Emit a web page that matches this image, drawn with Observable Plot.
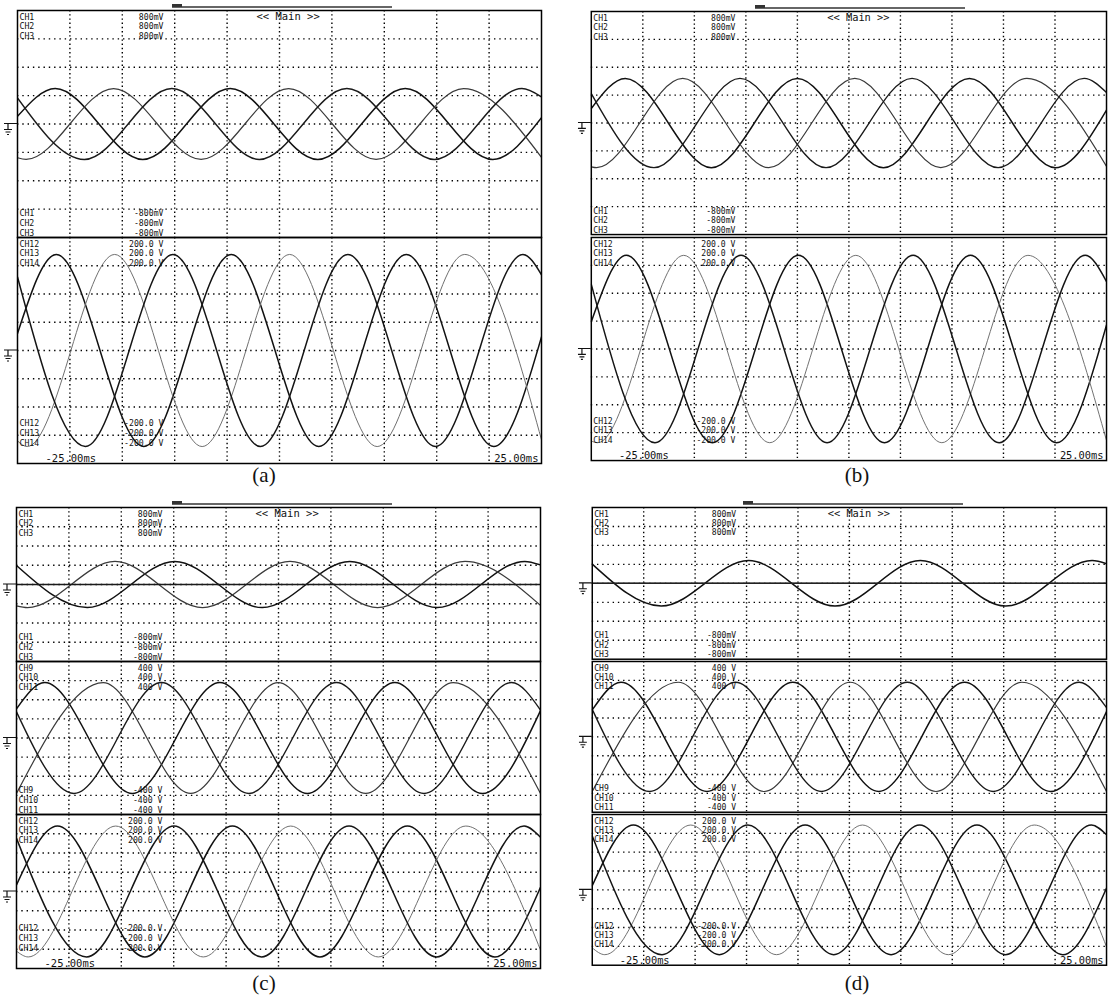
<!DOCTYPE html>
<html><head><meta charset="utf-8">
<script src="https://cdn.jsdelivr.net/npm/d3@7"></script>
<script src="https://cdn.jsdelivr.net/npm/@observablehq/plot@0.6"></script>
<style>
body{margin:0;background:#fff;}
#page{position:relative;width:1109px;height:998px;overflow:hidden;background:#fff;}
.sec{position:absolute;}
.sec svg{overflow:visible;display:block;}
.cap{position:absolute;font-family:"Liberation Serif","Times New Roman",serif;font-size:21px;line-height:21px;color:#111;transform:translateX(-50%);}
.bar{position:absolute;height:1.5px;background:#666;}
.barmark{position:absolute;height:3px;width:10px;background:#333;}
</style></head><body><div id="page"></div>
<script>
// ---------- tick / label text ----------
const TIME_GRID = [-20, -15, -10, -5, 0, 5, 10, 15, 20];          // ms, vertical divisions
const DIV_FRACTIONS = [-0.75, -0.5, -0.25, 0, 0.25, 0.5, 0.75];    // horizontal divisions per section
const TIME_LABELS = ["-25.00ms", "25.00ms"];
const MAIN_LABEL = "<< Main >>";
const CAPTIONS = ["(a)", "(b)", "(c)", "(d)"];
const CH_SIG = ["CH1", "CH2", "CH3"];
const CH_VOLT = ["CH9", "CH10", "CH11"];
const CH_OUT = ["CH12", "CH13", "CH14"];
const SIG_POS = ["800mV", "800mV", "800mV"];
const SIG_NEG = ["-800mV", "-800mV", "-800mV"];
const VOLT_POS = ["400 V", "400 V", "400 V"];
const VOLT_NEG = ["-400 V", "-400 V", "-400 V"];
const OUT_POS = ["200.0 V", "200.0 V", "200.0 V"];
const OUT_NEG = ["-200.0 V", "-200.0 V", "-200.0 V"];

// ---------- waveform key points: [time ms, value] ----------
// (a) CH1-CH3 (mV)
const A_SIG_1 = [[-25,54],[-21.4,250],[-13.05,-250],[-4.7,250],[3.65,-250],[12.0,250],[20.35,-250],[25,44]];
const A_SIG_2 = [[-25,-238],[-24.18,-250],[-15.83,250],[-7.48,-250],[0.87,250],[9.22,-250],[17.57,250],[25,-235]];
const A_SIG_3 = [[-25,184],[-18.62,-250],[-10.27,250],[-1.92,-250],[6.43,250],[14.78,-250],[23.13,250],[25,191]];
// (a) CH12-CH14 (V)
const A_OUT_12 = [[-25,30],[-21.3,170],[-12.95,-170],[-4.6,170],[3.75,-170],[12.1,170],[20.45,-170],[25,24]];
const A_OUT_13 = [[-25,-160],[-24.08,-170],[-15.73,170],[-7.38,-170],[0.97,170],[9.32,-170],[17.67,170],[25,-158]];
const A_OUT_14 = [[-25,130],[-18.52,-170],[-10.17,170],[-1.82,-170],[6.53,170],[14.88,-170],[23.23,170],[25,134]];
// (b) CH1-CH3 (mV)
const B_SIG_1 = [[-25,104],[-21.7,320],[-13.35,-320],[-5.0,320],[3.35,-320],[11.7,320],[20.05,-320],[25,92]];
const B_SIG_2 = [[-25,-314],[-24.48,-320],[-16.13,320],[-7.78,-320],[0.57,320],[8.92,-320],[17.27,320],[25,-311]];
const B_SIG_3 = [[-25,211],[-18.92,-320],[-10.57,320],[-2.22,-320],[6.13,320],[14.48,-320],[22.83,320],[25,219]];
// (b) CH12-CH14 (V)
const B_OUT_12 = [[-25,49],[-21.6,168],[-13.25,-168],[-4.9,168],[3.45,-168],[11.8,168],[20.15,-168],[25,43]];
const B_OUT_13 = [[-25,-165],[-24.38,-168],[-16.03,168],[-7.68,-168],[0.67,168],[9.02,-168],[17.37,168],[25,-164]];
const B_OUT_14 = [[-25,116],[-18.82,-168],[-10.47,168],[-2.12,-168],[6.23,168],[14.58,-168],[22.93,168],[25,121]];
// (c) CH1-CH3 (mV)
const C_SIG_1 = [[-25,198],[-18.25,-240],[-9.9,240],[-1.55,-240],[6.8,240],[15.15,-240],[23.5,240],[25,203]];
const C_SIG_2 = [[-25,-222],[-23.95,-240],[-15.6,240],[-7.25,-240],[1.1,240],[9.45,-240],[17.8,240],[25,-218]];
const C_SIG_3 = [[-25,0],[25,0]];
// (c) CH9-CH11 (V)
const C_VOLT_9 = [[-25,153],[-22.3,290],[-13.95,-290],[-5.6,290],[2.75,-290],[11.1,290],[19.45,-290],[25,143]];
const C_VOLT_10 = [[-25,-290],[-16.73,290],[-8.38,-290],[-0.03,290],[8.32,-290],[16.67,290],[25,-290]];
const C_VOLT_11 = [[-25,137],[-19.52,-290],[-11.17,290],[-2.82,-290],[5.53,290],[13.88,-290],[22.23,290],[25,146]];
// (c) CH12-CH14 (V)
const C_OUT_12 = [[-25,17],[-21.1,170],[-12.75,-170],[-4.4,170],[3.95,-170],[12.3,170],[20.65,-170],[25,11]];
const C_OUT_13 = [[-25,-155],[-23.88,-170],[-15.53,170],[-7.18,-170],[1.17,170],[9.52,-170],[17.87,170],[25,-152]];
const C_OUT_14 = [[-25,138],[-18.32,-170],[-9.97,170],[-1.62,-170],[6.73,170],[15.08,-170],[23.43,170],[25,141]];
// (d) CH1-CH3 (mV)
const D_SIG_1 = [[-25,203],[-18.3,-240],[-9.8,240],[-1.4,-240],[6.9,240],[15.2,-240],[23.6,240],[25,207]];
const D_SIG_2 = [[-25,0],[25,0]];
const D_SIG_3 = [[-25,2],[25,2]];
// (d) CH9-CH11 (V)
const D_VOLT_9 = [[-25,143],[-22.2,290],[-13.85,-290],[-5.5,290],[2.85,-290],[11.2,290],[19.55,-290],[25,134]];
const D_VOLT_10 = [[-25,-290],[-16.63,290],[-8.28,-290],[0.07,290],[8.42,-290],[16.77,290],[25,-290]];
const D_VOLT_11 = [[-25,146],[-19.42,-290],[-11.07,290],[-2.72,-290],[5.63,290],[13.98,-290],[22.33,290],[25,155]];
// (d) CH12-CH14 (V)
const D_OUT_12 = [[-25,11],[-21.0,172],[-12.65,-172],[-4.3,172],[4.05,-172],[12.4,172],[20.75,-172],[25,5]];
const D_OUT_13 = [[-25,-154],[-23.78,-172],[-15.43,172],[-7.08,-172],[1.27,172],[9.62,-172],[17.97,172],[25,-151]];
const D_OUT_14 = [[-25,143],[-18.22,-172],[-9.87,172],[-1.52,-172],[6.83,172],[15.18,-172],[23.53,172],[25,146]];

// ---------- build ----------
const FONT = "'DejaVu Sans Mono', 'Liberation Mono', monospace";
const LBL_SIZE = 8.2, LBL_LINE = 9.6;
const GROUPS = {
  sig:  {range: 800, names: CH_SIG,  pos: SIG_POS,  neg: SIG_NEG,  gray: -1},
  volt: {range: 400, names: CH_VOLT, pos: VOLT_POS, neg: VOLT_NEG, gray: -1},
  out:  {range: 200, names: CH_OUT,  pos: OUT_POS,  neg: OUT_NEG,  gray: 1}
};
const STYLE_SIG = [{s:"#111", w:1.5}, {s:"#3a3a3a", w:1.2}, {s:"#1a1a1a", w:1.4}];
const STYLE_OUT = [{s:"#111", w:1.5}, {s:"#707070", w:1.0}, {s:"#151515", w:1.5}];

const PANELS = [
  {left:17,  width:524, tops:[10,237,463],  bar:[155,375], cap:[264,465], sections:[
    {g:"sig", ch:[A_SIG_1,A_SIG_2,A_SIG_3]}, {g:"out", ch:[A_OUT_12,A_OUT_13,A_OUT_14]}]},
  {left:591, width:522, tops:[11,237,463],  bar:[164,374], cap:[857,465], sections:[
    {g:"sig", ch:[B_SIG_1,B_SIG_2,B_SIG_3]}, {g:"out", ch:[B_OUT_12,B_OUT_13,B_OUT_14]}]},
  {left:16,  width:524, tops:[507,661,814,968], bar:[156,376], cap:[264,973], sections:[
    {g:"sig", ch:[C_SIG_1,C_SIG_2,C_SIG_3]}, {g:"volt", ch:[C_VOLT_9,C_VOLT_10,C_VOLT_11]}, {g:"out", ch:[C_OUT_12,C_OUT_13,C_OUT_14]}]},
  {left:592, width:522, tops:[507,661,814,967], bar:[151,371], cap:[857,973], sections:[
    {g:"sig", ch:[D_SIG_1,D_SIG_2,D_SIG_3]}, {g:"volt", ch:[D_VOLT_9,D_VOLT_10,D_VOLT_11]}, {g:"out", ch:[D_OUT_12,D_OUT_13,D_OUT_14]}]}
];

const page = document.getElementById("page");
const ML = 16, MR = 3;

function txt(s, o) {
  return Plot.text([s], Object.assign({text: d => d, fontSize: 10, fontFamily: FONT, fill: "#111"}, o));
}

PANELS.forEach((p, pi) => {
  p.sections.forEach((sec, si) => {
    const grp = GROUPS[sec.g];
    const R = grp.range;
    const top = p.tops[si], h = p.tops[si + 1] - top;
    const isFirst = si === 0, isLast = si === p.sections.length - 1;
    const marks = [];
    marks.push(Plot.gridX(TIME_GRID, {stroke: "#000", strokeOpacity: 1, strokeWidth: 1.4, strokeDasharray: "1.4,2.8"}));
    marks.push(Plot.gridY(DIV_FRACTIONS.map(f => f * R), {stroke: "#000", strokeOpacity: 1, strokeWidth: 1.4, strokeDasharray: "1.4,3.9"}));
    const styles = sec.g === "out" ? STYLE_OUT : STYLE_SIG;
    sec.ch.forEach((pts, ci) => {
      const rows = pts.map(([t, v]) => ({t, v}));
      marks.push(Plot.line(rows, {x: "t", y: "v", curve: "monotone-x", stroke: styles[ci].s, strokeWidth: styles[ci].w, clip: true}));
    });
    marks.push(Plot.frame({stroke: "#000", strokeWidth: 1.5}));
    // channel name / scale columns, three lines each
    const lh = LBL_LINE / LBL_SIZE;
    const botDy = isLast ? -18 : -2;
    const tag = grp.gray >= 0 ? "lbl-gray" : "lbl";
    const common = {fontSize: LBL_SIZE, lineHeight: lh, ariaLabel: tag};
    marks.push(txt(grp.names.join("\n"), {...common, frameAnchor: "top-left", dx: 2, dy: 2.4, lineAnchor: "top", textAnchor: "start"}));
    marks.push(txt(grp.pos.join("\n"), {...common, frameAnchor: "top-left", dx: 146, dy: 2.4, lineAnchor: "top", textAnchor: "end"}));
    marks.push(txt(grp.names.join("\n"), {...common, frameAnchor: "bottom-left", dx: 2, dy: botDy, lineAnchor: "bottom", textAnchor: "start"}));
    marks.push(txt(grp.neg.join("\n"), {...common, frameAnchor: "bottom-left", dx: 146, dy: botDy, lineAnchor: "bottom", textAnchor: "end"}));
    if (isFirst) marks.push(txt(MAIN_LABEL, {frameAnchor: "top-left", dx: 239, dy: 9.5, lineAnchor: "bottom", textAnchor: "start", fontSize: 10.5}));
    if (isLast) {
      marks.push(txt(TIME_LABELS[0], {frameAnchor: "bottom-left", dx: 28, dy: -1.5, lineAnchor: "bottom", textAnchor: "start", fontSize: 10.5}));
      marks.push(txt(TIME_LABELS[1], {frameAnchor: "bottom-right", dx: -3, dy: -1.5, lineAnchor: "bottom", textAnchor: "end", fontSize: 10.5}));
    }
    const chart = Plot.plot({
      width: p.width + ML + MR, height: h,
      marginLeft: ML, marginRight: MR, marginTop: 0, marginBottom: 0,
      x: {domain: [-25, 25], axis: null},
      y: {domain: [-R, R], axis: null},
      style: {background: "transparent", overflow: "visible"},
      marks
    });
    // label columns: wider tracking like the scope font; lighter CH13 row
    d3.select(chart).selectAll('g[aria-label="lbl"] text, g[aria-label="lbl-gray"] text').attr("letter-spacing", 0.9);
    d3.select(chart).selectAll('g[aria-label="lbl-gray"] text').each(function () {
      d3.select(this).selectAll("tspan").filter((d, i) => i === 1).attr("fill", "#7a7a7a");
    });
    // ground reference marker at the zero level
    const y0 = chart.scale("y").apply(0);
    const cx = ML - 9;
    d3.select(chart).append("path")
      .attr("d", `M${cx-4},${y0}H${ML}M${cx},${y0}V${y0+6}M${cx-4},${y0+6}H${cx+4}M${cx-2.5},${y0+8.5}H${cx+2.5}M${cx-1},${y0+11}H${cx+1}`)
      .attr("stroke", "#111").attr("stroke-width", 1.2).attr("fill", "none");
    const wrap = document.createElement("div");
    wrap.className = "sec";
    wrap.style.left = (p.left - ML) + "px";
    wrap.style.top = top + "px";
    wrap.appendChild(chart);
    page.appendChild(wrap);
  });
  const bar = document.createElement("div");
  bar.className = "bar";
  bar.style.left = (p.left + p.bar[0]) + "px";
  bar.style.width = (p.bar[1] - p.bar[0]) + "px";
  bar.style.top = (p.tops[0] - 4) + "px";
  page.appendChild(bar);
  const mk = document.createElement("div");
  mk.className = "barmark";
  mk.style.left = (p.left + p.bar[0]) + "px";
  mk.style.top = (p.tops[0] - 6) + "px";
  page.appendChild(mk);
  const cap = document.createElement("div");
  cap.className = "cap";
  cap.textContent = CAPTIONS[pi];
  cap.style.left = p.cap[0] + "px";
  cap.style.top = p.cap[1] + "px";
  page.appendChild(cap);
});
</script></body></html>
